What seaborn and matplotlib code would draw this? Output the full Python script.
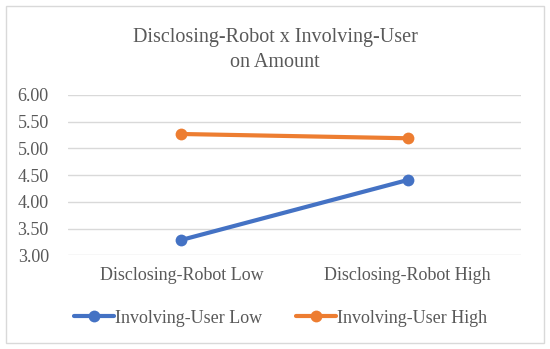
import numpy as np
import pandas as pd
import matplotlib.pyplot as plt
import seaborn as sns
from matplotlib.patches import Rectangle

robot = ["Disclosing-Robot Low", "Disclosing-Robot High"]
user = ["Involving-User Low", "Involving-User High"]
low_vals = [3.29, 4.41]
high_vals = [5.27, 5.19]
yticks = [3.0, 3.5, 4.0, 4.5, 5.0, 5.5, 6.0]

df = pd.DataFrame({
    "robot": robot * 2,
    "pos": [0, 1] * 2,
    "user": [user[0]] * 2 + [user[1]] * 2,
    "amount": low_vals + high_vals,
})

sns.set_style("white")
plt.rcParams['font.family'] = ['Liberation Serif', 'DejaVu Serif']

fig = plt.figure(figsize=(5.5, 3.49), dpi=100)
ax = fig.add_axes([0.124, 0.268, 0.823, 0.46])

palette = {user[0]: "#4472C4", user[1]: "#ED7D31"}
sns.lineplot(data=df, x="pos", y="amount", hue="user", palette=palette,
             marker="o", markersize=8.5, markeredgewidth=0, linewidth=3,
             ax=ax, legend=True)

ax.set_xlim(-0.5, 1.5)
ax.set_ylim(3.0, 6.0)
ax.set_yticks(yticks)
ax.set_yticklabels([f"{v:.2f}" for v in yticks], fontsize=13, color="#595959")
ax.set_xticks([0, 1])
ax.set_xticklabels(robot, fontsize=13, color="#595959")
ax.tick_params(axis="y", length=0, pad=14)
ax.tick_params(axis="x", length=0, pad=8)
ax.set_xlabel("")
ax.set_ylabel("")
ax.grid(axis="y", color="#D9D9D9", linewidth=1)
for s in ax.spines.values():
    s.set_visible(False)

handles, labels = ax.get_legend_handles_labels()
ax.get_legend().remove()
fig.legend(handles, labels, loc="center", bbox_to_anchor=(0.51, 0.088), ncol=2,
           frameon=False, fontsize=13, labelcolor="#595959", handlelength=2.2,
           handletextpad=0.05, columnspacing=1.9)

fig.text(0.5, 0.857, "Disclosing-Robot x Involving-User\non Amount", ha="center",
         va="center", fontsize=14.5, color="#595959", linespacing=1.4)

fig.patches.append(Rectangle((0.011, 0.017), 0.978, 0.966, transform=fig.transFigure,
                             fill=False, edgecolor="#D9D9D9", linewidth=1))

fig.savefig("out.png", dpi=100)
